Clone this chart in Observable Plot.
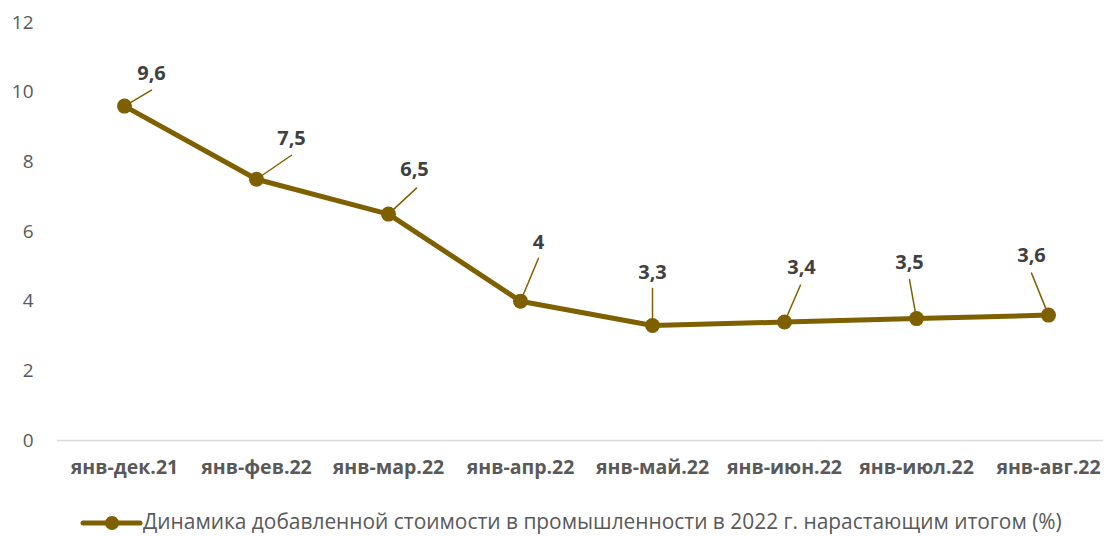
<!DOCTYPE html>
<html>
<head>
<meta charset="utf-8">
<script src="https://cdn.jsdelivr.net/npm/d3@7"></script>
<script src="https://cdn.jsdelivr.net/npm/@observablehq/plot@0.6"></script>
<style>
  body { margin: 0; background: #fff; font-family: "Open Sans", sans-serif; }
  #legend { position: relative; height: 36px; width: 1105px; }
  #legend svg { position: absolute; left: 80px; top: 13px; }
  #legend span { position: absolute; left: 143px; top: 7px; font-size: 20.9px; color: #595959; white-space: nowrap; }
</style>
</head>
<body>
<div id="chart"></div>
<div id="legend">
  <svg width="64" height="20"><line x1="3" y1="10" x2="60" y2="10" stroke="#7f6000" stroke-width="5" stroke-linecap="round"></line><circle cx="32" cy="10" r="7" fill="#7f6000"></circle></svg>
  <span id="legendText"></span>
</div>
<script>
const categories = ["янв-дек.21", "янв-фев.22", "янв-мар.22", "янв-апр.22", "янв-май.22", "янв-июн.22", "янв-июл.22", "янв-авг.22"];
const values = [9.6, 7.5, 6.5, 4, 3.3, 3.4, 3.5, 3.6];
const yTicks = [0, 2, 4, 6, 8, 10, 12];
const seriesName = "Динамика добавленной стоимости в промышленности в 2022 г. нарастающим итогом (%)";

// layout: pixel offsets of data-label leader ends and label centres
const leaderOffsets = [[27,-16],[35,-24],[28,-26],[18,-43],[0,-37],[16,-37],[-7,-39],[-17,-42]];
const labelOffsets = [[27,-33],[35,-41],[26,-44],[18,-59],[0,-53],[17,-54],[-7,-56],[-17,-60]];

const color = "#7f6000";
const data = categories.map((c, i) => ({
  cat: c,
  v: values[i],
  label: String(values[i]).replace(".", ","),
  len: Math.hypot(leaderOffsets[i][0], leaderOffsets[i][1]),
  rot: Math.atan2(leaderOffsets[i][0], -leaderOffsets[i][1]) * 180 / Math.PI
}));

const labelMarks = data.map((d, i) => Plot.text([d], {
  x: "cat", y: "v", text: "label",
  dx: labelOffsets[i][0], dy: labelOffsets[i][1],
  fontSize: 20, fontWeight: "bold", fill: "#404040"
}));

const plot = Plot.plot({
  width: 1105,
  height: 500,
  marginLeft: 57,
  marginRight: 2,
  marginTop: 22,
  marginBottom: 60,
  style: { fontFamily: "Open Sans, sans-serif", color: "#595959", background: "#fff" },
  x: { type: "point", domain: categories, range: [123, 1048], padding: 0, label: null },
  y: { domain: [0, 12], label: null },
  length: { type: "identity" },
  marks: [
    Plot.ruleY([0], { stroke: "#d9d9d9", strokeWidth: 1.5 }),
    Plot.axisY({ ticks: yTicks, tickSize: 0, tickPadding: 24, fontSize: 19, label: null, tickFormat: d => String(d) }),
    Plot.axisX({ tickSize: 0, tickPadding: 20, fontSize: 19.5, fontWeight: "bold", label: null }),
    Plot.vector(data, { x: "cat", y: "v", length: "len", rotate: "rot", anchor: "start", stroke: color, strokeWidth: 1.5, shape: { draw(ctx, l) { ctx.moveTo(0, 0); ctx.lineTo(0, -l); } } }),
    Plot.line(data, { x: "cat", y: "v", stroke: color, strokeWidth: 5 }),
    Plot.dot(data, { x: "cat", y: "v", r: 7.5, fill: color }),
    ...labelMarks
  ]
});
document.getElementById("chart").appendChild(plot);
document.getElementById("legendText").textContent = seriesName;
</script>
</body>
</html>
